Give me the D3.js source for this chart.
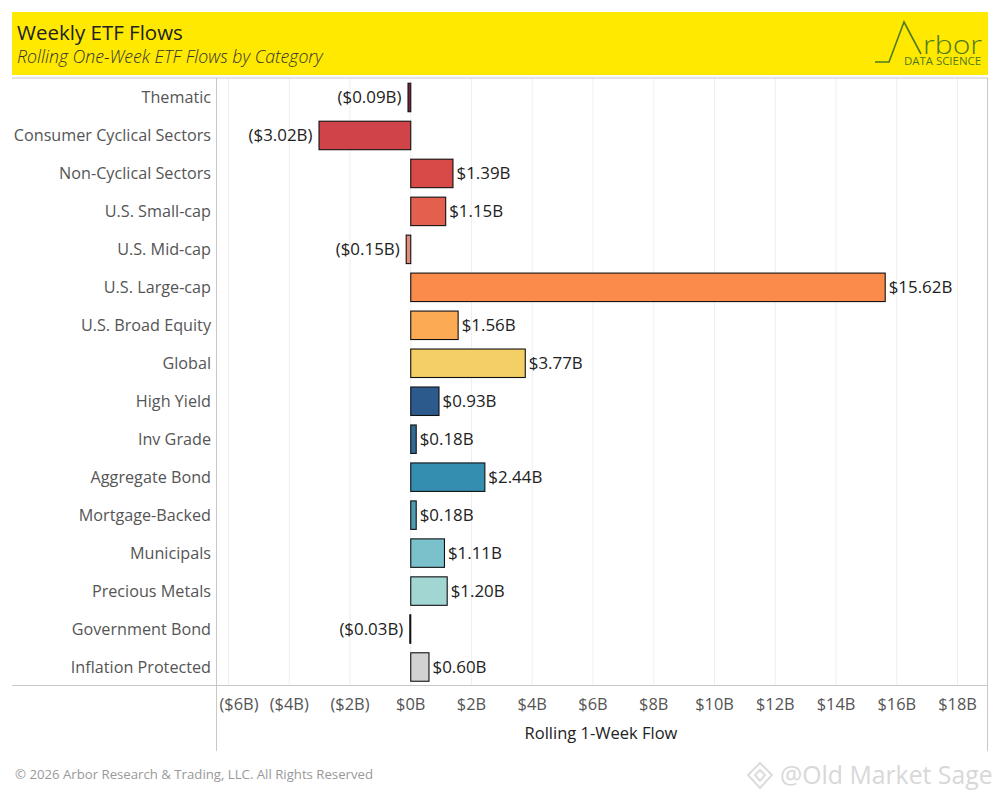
<!DOCTYPE html>
<html>
<head>
<meta charset="utf-8">
<script src="https://cdn.jsdelivr.net/npm/d3@7"></script>
<style>
  html, body { margin: 0; padding: 0; background: #fff; }
  text { font-family: "Open Sans", "Noto Sans", sans-serif; }
</style>
</head>
<body>
<div id="chart"></div>
<script>
const categories = ['Thematic', 'Consumer Cyclical Sectors', 'Non-Cyclical Sectors', 'U.S. Small-cap', 'U.S. Mid-cap',
  'U.S. Large-cap', 'U.S. Broad Equity', 'Global', 'High Yield', 'Inv Grade', 'Aggregate Bond', 'Mortgage-Backed',
  'Municipals', 'Precious Metals', 'Government Bond', 'Inflation Protected'];
const flows = [-0.09, -3.02, 1.39, 1.15, -0.15, 15.62, 1.56, 3.77, 0.93, 0.18, 2.44, 0.18, 1.11, 1.20, -0.03, 0.60];
const barColors = ['#7d2340', '#d04349', '#d84a47', '#e4604e', '#e48c78', '#fb8b4b', '#fdaa55', '#f4cf66', '#2c5a8c',
  '#2f6b94', '#338eb0', '#4f9bb2', '#7ac1cc', '#a2d6d3', '#000000', '#d2d2d2'];
const ticks = [-6, -4, -2, 0, 2, 4, 6, 8, 10, 12, 14, 16, 18];

const fmtTick = v => v < 0 ? `($${-v}B)` : `$${v}B`;
const fmtLabel = v => v < 0 ? `($${(-v).toFixed(2)}B)` : `$${v.toFixed(2)}B`;

const svg = d3.select('#chart').append('svg').attr('width', 1000).attr('height', 800).style('display', 'block');

const x = d3.scaleLinear().domain([-6, 18]).range([228.5, 957.5]);
const y = d3.scaleBand().domain(categories).range([78.5, 686]).paddingInner(0.25).paddingOuter(0.125);

// header
svg.append('rect').attr('x', 12).attr('y', 12).attr('width', 976).attr('height', 63).attr('fill', '#ffe900');
svg.append('text').attr('x', 17).attr('y', 40).attr('font-size', 20.5).attr('font-weight', 500).attr('fill', '#222').text('Weekly ETF Flows');
svg.append('text').attr('x', 17).attr('y', 63).attr('font-size', 17.7).attr('font-style', 'italic').attr('font-weight', 300).attr('fill', '#333').text('Rolling One-Week ETF Flows by Category');

// logo
const logoColor = '#4f7a1f';
svg.append('path').attr('fill', 'none').attr('stroke', logoColor).attr('stroke-width', 1.6).attr('d', 'M875 62H889L904 22L921 54');
svg.append('text').attr('x', 923).attr('y', 54).attr('font-size', 26).attr('font-weight', 300).attr('fill', logoColor)
  .attr('textLength', 59).attr('lengthAdjust', 'spacingAndGlyphs').text('rbor');
svg.append('text').attr('x', 904).attr('y', 65).attr('font-size', 10.5).attr('fill', logoColor)
  .attr('textLength', 77).attr('lengthAdjust', 'spacingAndGlyphs').text('DATA SCIENCE');

// grid and frame
svg.append('g').selectAll('line').data(ticks).join('line')
  .attr('x1', d => x(d)).attr('x2', d => x(d)).attr('y1', 78).attr('y2', 685.5)
  .attr('stroke', '#efefef');
svg.append('line').attr('x1', 12).attr('x2', 988).attr('y1', 78).attr('y2', 78).attr('stroke', '#c8c8c8');
svg.append('line').attr('x1', 12).attr('x2', 988).attr('y1', 685.5).attr('y2', 685.5).attr('stroke', '#c8c8c8');
svg.append('line').attr('x1', 216.5).attr('x2', 216.5).attr('y1', 78).attr('y2', 751).attr('stroke', '#c8c8c8');
svg.append('line').attr('x1', 987.5).attr('x2', 987.5).attr('y1', 78).attr('y2', 751).attr('stroke', '#c8c8c8');

// bars
svg.append('g').selectAll('rect').data(flows).join('rect')
  .attr('x', d => Math.min(x(0), x(d)))
  .attr('y', (d, i) => y(categories[i]))
  .attr('width', d => Math.abs(x(d) - x(0)))
  .attr('height', y.bandwidth())
  .attr('fill', (d, i) => barColors[i])
  .attr('stroke', '#111').attr('stroke-width', 1.1);

// value labels
svg.append('g').selectAll('text').data(flows).join('text')
  .attr('x', d => d < 0 ? x(d) - 6.5 : x(d) + 3.5)
  .attr('y', (d, i) => y(categories[i]) + y.bandwidth() / 2)
  .attr('dy', '0.35em')
  .attr('text-anchor', d => d < 0 ? 'end' : 'start')
  .attr('font-size', 16.9).attr('fill', '#222')
  .text(fmtLabel);

// category labels
svg.append('g').selectAll('text').data(categories).join('text')
  .attr('x', 211)
  .attr('y', d => y(d) + y.bandwidth() / 2)
  .attr('dy', '0.35em')
  .attr('text-anchor', 'end')
  .attr('font-size', 16.2).attr('fill', '#555')
  .text(d => d);

// tick labels
svg.append('g').selectAll('text').data(ticks).join('text')
  .attr('x', d => x(d) + (d === -6 ? 10.5 : 0))
  .attr('y', 704)
  .attr('dy', '0.35em')
  .attr('text-anchor', 'middle')
  .attr('font-size', 16.4).attr('fill', '#555')
  .text(fmtTick);

svg.append('text').attr('x', 601).attr('y', 733).attr('dy', '0.35em').attr('text-anchor', 'middle')
  .attr('font-size', 16.5).attr('font-weight', 500).attr('fill', '#222').text('Rolling 1-Week Flow');

svg.append('text').attr('x', 15).attr('y', 774).attr('dy', '0.35em')
  .attr('font-size', 13.2).attr('fill', '#999').text('© 2026 Arbor Research & Trading, LLC. All Rights Reserved');

// watermark
const mark = svg.append('g').attr('fill', 'none').attr('stroke', '#dcdcdc').attr('stroke-width', 2);
mark.append('path').attr('d', 'M760 763L772 775L760 788L748 775Z');
mark.append('path').attr('d', 'M760 770L765 775L760 781L755 775Z');
svg.append('text').attr('x', 780).attr('y', 775).attr('dy', '0.35em')
  .attr('font-size', 24.8).attr('fill', '#d8d8d8').text('@Old Market Sage');
</script>
</body>
</html>
